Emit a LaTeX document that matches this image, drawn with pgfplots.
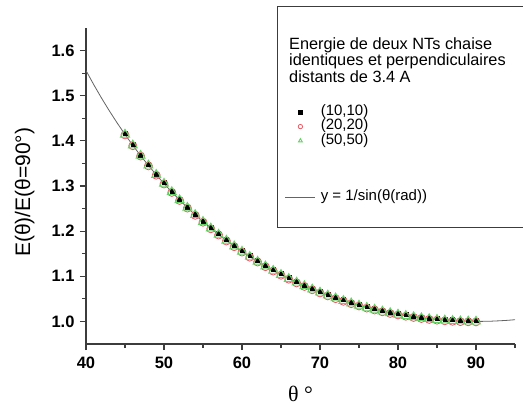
\documentclass[border=0pt]{standalone}
\usepackage{fontspec}
\setmainfont{Liberation Sans}
\newfontfamily\seriffont{Liberation Serif}
\usepackage{pgfplots}
\usepackage{pgfplotstable}
\pgfplotsset{compat=1.18}
\definecolor{axcol}{RGB}{60,60,60}
\definecolor{curvecol}{RGB}{100,100,100}
\definecolor{redm}{RGB}{230,90,100}
\definecolor{greenm}{RGB}{100,210,100}
\pgfplotstableread{
theta a b c
45 1.4162 1.4132 1.4142
46 1.3922 1.3892 1.3902
47 1.3693 1.3663 1.3673
48 1.3476 1.3446 1.3456
49 1.3270 1.3240 1.3250
50 1.3074 1.3044 1.3054
51 1.2888 1.2858 1.2868
52 1.2710 1.2680 1.2690
53 1.2541 1.2511 1.2521
54 1.2381 1.2351 1.2361
55 1.2228 1.2198 1.2208
56 1.2082 1.2052 1.2062
57 1.1944 1.1914 1.1924
58 1.1812 1.1782 1.1792
59 1.1686 1.1656 1.1666
60 1.1572 1.1537 1.1547
61 1.1459 1.1424 1.1434
62 1.1351 1.1316 1.1326
63 1.1248 1.1213 1.1223
64 1.1151 1.1116 1.1126
65 1.1059 1.1024 1.1034
66 1.0971 1.0936 1.0946
67 1.0889 1.0854 1.0864
68 1.0810 1.0775 1.0785
69 1.0736 1.0701 1.0711
70 1.0667 1.0632 1.0642
71 1.0601 1.0566 1.0576
72 1.0540 1.0505 1.0515
73 1.0482 1.0447 1.0457
74 1.0428 1.0393 1.0403
75 1.0378 1.0343 1.0353
76 1.0331 1.0296 1.0306
77 1.0288 1.0253 1.0263
78 1.0248 1.0213 1.0223
79 1.0212 1.0177 1.0187
80 1.0179 1.0144 1.0154
81 1.0150 1.0115 1.0125
82 1.0123 1.0088 1.0098
83 1.0100 1.0065 1.0075
84 1.0080 1.0045 1.0055
85 1.0063 1.0028 1.0038
86 1.0049 1.0014 1.0024
87 1.0039 1.0004 1.0014
88 1.0031 0.9996 1.0006
89 1.0027 0.9992 1.0002
90 1.0025 0.9990 1.0000
}\pts
\pgfplotstableread{
theta y
40 1.5557
41 1.5243
42 1.4945
43 1.4663
44 1.4396
45 1.4142
46 1.3902
47 1.3673
48 1.3456
49 1.3250
50 1.3054
51 1.2868
52 1.2690
53 1.2521
54 1.2361
55 1.2208
56 1.2062
57 1.1924
58 1.1792
59 1.1666
60 1.1547
61 1.1434
62 1.1326
63 1.1223
64 1.1126
65 1.1034
66 1.0946
67 1.0864
68 1.0785
69 1.0711
70 1.0642
71 1.0576
72 1.0515
73 1.0457
74 1.0403
75 1.0353
76 1.0306
77 1.0263
78 1.0223
79 1.0187
80 1.0154
81 1.0125
82 1.0098
83 1.0075
84 1.0055
85 1.0038
86 1.0024
87 1.0014
88 1.0006
89 1.0002
90 1.0000
91 1.0002
92 1.0006
93 1.0014
94 1.0024
95 1.0038
}\curve
\begin{document}
\begin{tikzpicture}
\useasboundingbox (0,0) rectangle (523pt,408pt);
\begin{axis}[
  at={(86pt,64pt)}, anchor=south west, scale only axis,
  width=429pt, height=316pt,
  xmin=40, xmax=95, ymin=0.95, ymax=1.65,
  axis lines=left, axis line style={-, axcol, line width=1.3pt},
  xtick={40,50,60,70,80,90}, minor xtick={45,55,65,75,85,95},
  ytick={1.0,1.1,1.2,1.3,1.4,1.5,1.6},
  minor ytick={1.05,1.15,1.25,1.35,1.45,1.55},
  tick align=outside, major tick length=6pt, minor tick length=4pt,
  tick style={axcol, line width=1.2pt},
  /pgf/number format/assume math mode=true,
  ticklabel style={font=\fontsize{16.5}{16.5}\selectfont\bfseries},
  yticklabel style={xshift=-2pt, /pgf/number format/.cd, fixed, fixed zerofill, precision=1},
  xticklabel style={yshift=-3pt, /pgf/number format/.cd, fixed, precision=0},
  ylabel={E(θ)/E(θ=90°)},
  ylabel style={font=\fontsize{21}{21}\selectfont, at={(axis description cs:-0.143,0.48)}, anchor=center},
  xlabel={\seriffont θ °},
  xlabel style={font=\fontsize{22}{22}\selectfont, at={(axis description cs:0.5,-0.158)}, anchor=center},
  legend style={at={(rel axis cs:0.4639,0.7554)}, anchor=north west, draw=none, fill=none,
    inner sep=0pt, outer sep=0pt, row sep=0pt, column sep=3pt, font=\fontsize{15}{15}\selectfont,
    nodes={text height=10.4pt, text depth=3.8pt, inner ysep=0pt}},
  legend cell align=left,
  legend image code/.code={\draw[mark repeat=2,mark phase=2,#1] plot coordinates {(0pt,0pt) (15pt,0pt) (30pt,0pt)};},
  legend image post style={mark size=2.2pt},
]
\addplot[only marks, mark=square*, mark size=2pt, black] table[x=theta, y=a] {\pts};
\addlegendentry{(10,10)}
\addplot[only marks, mark=o, mark size=4pt, redm, line width=0.8pt] table[x=theta, y=b] {\pts};
\addlegendentry{(20,20)}
\addplot[only marks, mark=triangle, mark size=5.2pt, greenm, line width=0.9pt] table[x=theta, y=c] {\pts};
\addlegendentry{(50,50)}
\addlegendimage{empty legend}\addlegendentry{}
\addlegendimage{empty legend}\addlegendentry{}
\addlegendimage{empty legend}\addlegendentry{}
\addplot[curvecol, line width=0.8pt, no marks] table[x=theta, y=y] {\curve};
\addlegendentry{y = 1/sin(θ(rad))}
\end{axis}
\draw[axcol, line width=1pt] (277pt,181pt) rectangle (540pt,401pt);
\node[anchor=north west, align=left, inner sep=0pt, font=\fontsize{16.3}{16.5}\selectfont] at (289pt,371pt)
  {Energie de deux NTs chaise\\identiques et perpendiculaires\\distants de 3.4 A};
\end{tikzpicture}
\end{document}
